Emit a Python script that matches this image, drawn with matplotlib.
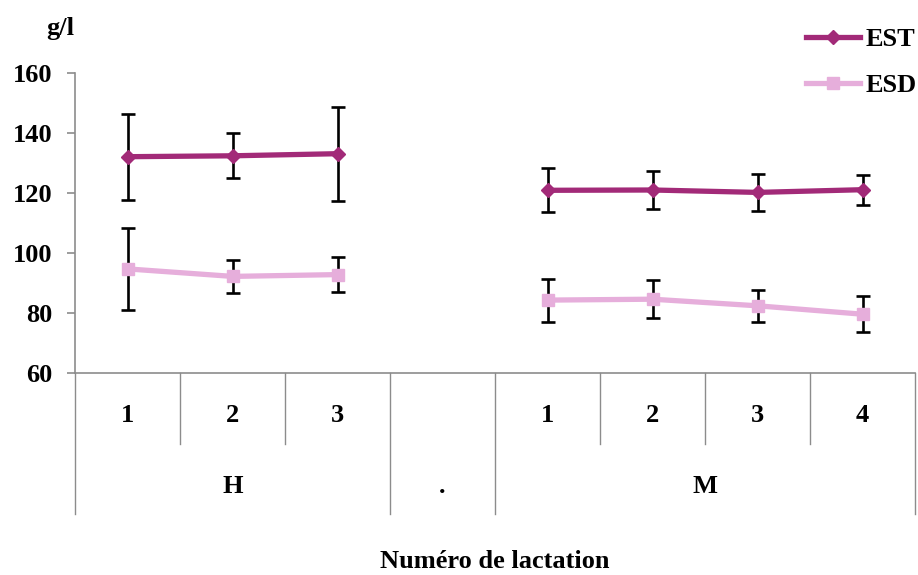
import numpy as np
import matplotlib
matplotlib.use("Agg")
import matplotlib.pyplot as plt

plt.rcParams['font.family'] = ['Liberation Serif', 'DejaVu Serif']
plt.rcParams['font.weight'] = 'bold'

# lactation number inside each group, '.' group is empty
lactation = ["1", "2", "3", "", "1", "2", "3", "4"]
groupes = ["H", ".", "M"]
taille_groupes = [3, 1, 4]

est = [132.1, 132.4, 133.1, np.nan, 120.9, 121.0, 120.2, 121.1]
est_err = [14.3, 7.5, 15.6, np.nan, 7.3, 6.4, 6.2, 5.0]
esd = [94.7, 92.2, 92.8, np.nan, 84.3, 84.6, 82.4, 79.6]
esd_err = [13.6, 5.5, 5.8, np.nan, 7.2, 6.4, 5.4, 6.0]

c_est = "#A22A78"
c_esd = "#E6AEDB"
gris = "#8C8C8C"
fs = 19

fig = plt.figure(figsize=(9.18, 5.75), dpi=100)
ax = fig.add_axes([75/918, 1-373/575, 840/918, 300/575])

x = np.arange(len(lactation))

ax.errorbar(x, est, yerr=est_err, fmt='none', ecolor='black', elinewidth=1.9,
            capsize=5, capthick=1.9, zorder=2)
ax.errorbar(x, esd, yerr=esd_err, fmt='none', ecolor='black', elinewidth=1.9,
            capsize=5, capthick=1.9, zorder=2)
ax.plot(x, est, color=c_est, lw=3.8, marker='D', ms=7.5, label="EST", zorder=3)
ax.plot(x, esd, color=c_esd, lw=3.8, marker='s', ms=8, label="ESD", zorder=3)

ax.set_xlim(-0.5, len(lactation) - 0.5)
ax.set_ylim(60, 160)
ax.set_yticks(np.arange(60, 161, 20))
ax.tick_params(axis='y', labelsize=fs, length=6, width=1.2, color=gris, pad=10)
ax.set_xticks([])

for s in ['top', 'right']:
    ax.spines[s].set_visible(False)
ax.spines['left'].set_color(gris)
ax.spines['bottom'].set_color(gris)
ax.spines['left'].set_linewidth(1.2)
ax.spines['bottom'].set_linewidth(1.2)

# two-level category axis drawn under the plot
trans = ax.get_xaxis_transform()
y1 = -71/300
y2 = -141/300
frontieres = np.cumsum([0] + taille_groupes) - 0.5
for i, lab in enumerate(lactation):
    ax.text(i, -0.143, lab, transform=trans, ha='center', va='center', fontsize=fs)
for b in np.arange(-0.5, len(lactation)):
    yb = y2 if b in frontieres else y1
    ax.plot([b, b], [0, yb], transform=trans, color=gris, lw=1.0, clip_on=False)
for g, a, b in zip(groupes, frontieres[:-1], frontieres[1:]):
    ax.text((a + b) / 2, -0.377, g, transform=trans, ha='center', va='center', fontsize=fs)

ax.text(0.5, -0.627, "Numéro de lactation", transform=ax.transAxes,
        ha='center', va='center', fontsize=fs)
fig.text(60/918, 1-28/575, "g/l", ha='center', va='center', fontsize=fs)

ax.legend(loc='upper left', bbox_to_anchor=(806/918, 1-28/575),
          bbox_transform=fig.transFigure, frameon=False, fontsize=fs,
          handlelength=2.05, handletextpad=0.2, labelspacing=0.85,
          borderpad=0, borderaxespad=0)

plt.savefig("out.png", dpi=100)
